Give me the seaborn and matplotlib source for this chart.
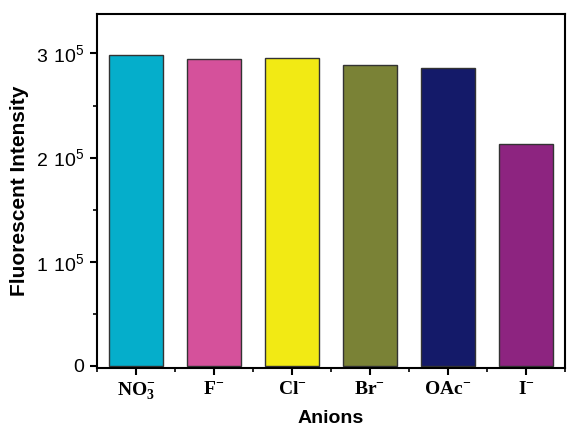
import matplotlib
matplotlib.use("Agg")
import matplotlib.pyplot as plt
import seaborn as sns
import pandas as pd
from matplotlib.ticker import MultipleLocator

categories = ["NO3", "F", "Cl", "Br", "OAc", "I"]
tick_labels = [r"$\mathbf{NO_3^{-}}$", r"$\mathbf{F^{-}}$", r"$\mathbf{Cl^{-}}$",
               r"$\mathbf{Br^{-}}$", r"$\mathbf{OAc^{-}}$", r"$\mathbf{I^{-}}$"]
intensity = [2.99e5, 2.95e5, 2.96e5, 2.89e5, 2.86e5, 2.13e5]
colors = ["#05AECB", "#D5519B", "#F2EA14", "#7A8236", "#141A69", "#8D2480"]
y_ticks = [0, 1e5, 2e5, 3e5]
y_tick_labels = ["0", r"$\mathsf{1\ 10^{5}}$", r"$\mathsf{2\ 10^{5}}$", r"$\mathsf{3\ 10^{5}}$"]

sns.set_theme(style="white")
plt.rcParams["font.family"] = ["Liberation Sans", "DejaVu Sans"]
plt.rcParams["mathtext.fontset"] = "custom"
plt.rcParams["mathtext.bf"] = "Liberation Serif:bold"
plt.rcParams["mathtext.sf"] = "Liberation Sans"
plt.rcParams["mathtext.rm"] = "Liberation Serif"
for k in ["text.color", "axes.labelcolor", "xtick.color", "ytick.color"]:
    plt.rcParams[k] = "black"

df = pd.DataFrame({"anion": categories, "value": intensity})

fig = plt.figure(figsize=(5.73, 4.34), dpi=100)
ax = fig.add_axes([0.169, 0.152, 0.817, 0.816])
sns.barplot(data=df, x="anion", y="value", hue="anion", palette=colors,
            legend=False, width=0.69, edgecolor="#333333", linewidth=1.0,
            saturation=1, ax=ax)

ax.set_xlim(-0.485, 5.485)
ax.set_ylim(-0.02e5, 3.38e5)
ax.set_yticks(y_ticks)
ax.set_yticklabels(y_tick_labels, fontsize=14)
ax.yaxis.set_minor_locator(MultipleLocator(0.5e5))
ax.set_xticks(range(len(categories)))
ax.set_xticklabels(tick_labels, fontsize=14)
ax.set_xticks([i + 0.5 for i in range(-1, len(categories))], minor=True)

for s in ax.spines.values():
    s.set_linewidth(1.5)
    s.set_color("black")
ax.tick_params(axis="both", which="major", direction="out", length=5, width=1.5,
               color="black", labelcolor="black", left=True, bottom=True, pad=4)
ax.tick_params(axis="both", which="minor", direction="out", length=3, width=1.2,
               color="black", left=True, bottom=True)

ax.set_xlabel("Anions", fontsize=14, fontweight="bold", labelpad=6, color="black")
ax.set_ylabel("Fluorescent Intensity", fontsize=15, fontweight="bold", labelpad=5, color="black")

fig.savefig("out.png", dpi=100)
